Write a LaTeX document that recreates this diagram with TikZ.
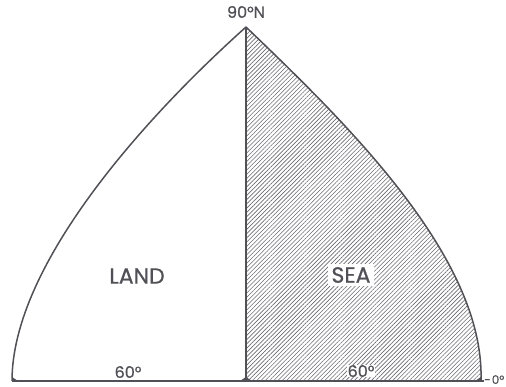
\documentclass[tikz,border=0pt]{standalone}
\usepackage{fontspec}
\setmainfont{Poppins}
\newfontfamily\labelfont[FakeBold=0.7]{Poppins}
\usetikzlibrary{patterns.meta,positioning}
\definecolor{inkgray}{RGB}{80,80,86}

\begin{document}
\begin{tikzpicture}[
    x=1pt, y=1pt,
    every node/.style={align=center, text=inkgray},
    outline/.style={draw=inkgray, line width=1.5pt, line join=round},
    hatch/.style={pattern={Lines[angle=45, distance=3pt, line width=0.6pt]}, pattern color=inkgray!85},
    region/.style={font=\labelfont\fontsize{22}{26}\selectfont, inner sep=3pt},
    degree/.style={font=\labelfont\fontsize{16}{19}\selectfont, inner sep=1pt},
    cornertick/.style={fill=inkgray}
]
\useasboundingbox (0,0) rectangle (506,387);

% Corners of the diagram
\coordinate (apex) at (246,360);
\coordinate (leftfoot) at (12,6);
\coordinate (midfoot) at (246,6);
\coordinate (rightfoot) at (481,6);
\coordinate (lineend) at (484,6);

% Sea half, hatched
\fill[hatch] (midfoot) -- (apex) .. controls (345,265) and (485,130) .. (rightfoot) -- cycle;

% Labels
\node[region] (land) at (137,111) {LAND};
\node[region, fill=white] (sea) at (351,112) {SEA};
\node[degree] (pole) at (246,375) {90°N};
\node[degree] (landdeg) at (128,15) {60°};
\node[degree, fill=white, inner sep=0.5pt] (seadeg) at (361,16) {60°};
\node[degree, font=\labelfont\fontsize{12}{14}\selectfont, anchor=base west, inner sep=0pt] (equator) at (484,3) {-\kern1pt0°};

% Outline
\draw[outline] (leftfoot) .. controls (12,120) and (140,265) .. (apex);
\draw[outline] (apex) .. controls (345,265) and (485,130) .. (rightfoot);
\draw[outline] (apex) -- (midfoot);
\draw[outline] (leftfoot) -- (lineend);

% Corner marks
\fill[cornertick] (leftfoot) -- ++(6,0) -- ++(-6,4) -- cycle;
\fill[cornertick] (midfoot) -- ++(-6,0) -- ++(6,4) -- cycle;
\fill[cornertick] (midfoot) -- ++(6,0) -- ++(-6,4) -- cycle;
\fill[cornertick] (rightfoot) -- ++(-6,0) -- ++(6,4) -- cycle;

\end{tikzpicture}
\end{document}
